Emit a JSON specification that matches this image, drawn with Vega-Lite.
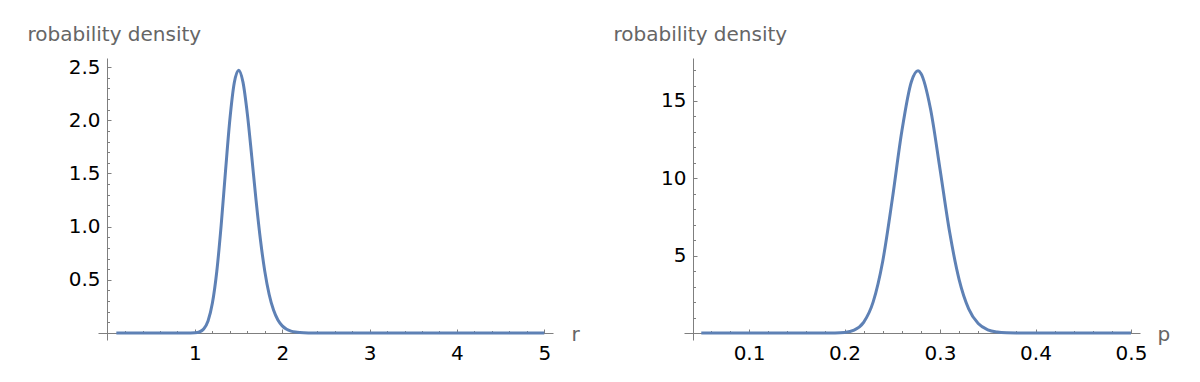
{
  "$schema": "https://vega.github.io/schema/vega-lite/v6.json",
  "padding": {"left": 27, "top": 24, "right": 5, "bottom": 5},
  "bounds": "flush",
  "spacing": 131,
  "config": {
    "view": {"stroke": null},
    "axis": {
      "grid": false,
      "domainColor": "#7f7f7f",
      "tickColor": "#7f7f7f",
      "domainWidth": 1,
      "tickWidth": 1,
      "labelFont": "DejaVu Sans",
      "labelFontSize": 20,
      "labelColor": "#000000",
      "titleFont": "DejaVu Sans",
      "titleFontSize": 20,
      "titleFontWeight": "normal",
      "titleColor": "#666666",
      "labelOverlap": false,
      "labelFlush": false
    }
  },
  "datasets": {
    "rdens": [
      {"r": 0.1, "d": 0}, {"r": 0.5, "d": 0}, {"r": 0.9, "d": 0}, {"r": 0.95, "d": 0.0003},
      {"r": 1.0, "d": 0.0019}, {"r": 1.05, "d": 0.0095}, {"r": 1.1, "d": 0.037}, {"r": 1.15, "d": 0.113},
      {"r": 1.2, "d": 0.281}, {"r": 1.25, "d": 0.578}, {"r": 1.3, "d": 1.01}, {"r": 1.35, "d": 1.521},
      {"r": 1.4, "d": 2.007}, {"r": 1.45, "d": 2.35}, {"r": 1.5, "d": 2.471}, {"r": 1.55, "d": 2.358},
      {"r": 1.6, "d": 2.06}, {"r": 1.65, "d": 1.663}, {"r": 1.7, "d": 1.247}, {"r": 1.75, "d": 0.876},
      {"r": 1.8, "d": 0.579}, {"r": 1.85, "d": 0.362}, {"r": 1.9, "d": 0.215}, {"r": 1.95, "d": 0.122},
      {"r": 2.0, "d": 0.067}, {"r": 2.05, "d": 0.035}, {"r": 2.1, "d": 0.018}, {"r": 2.15, "d": 0.0086},
      {"r": 2.2, "d": 0.0041}, {"r": 2.3, "d": 0.0008}, {"r": 2.5, "d": 0}, {"r": 3.0, "d": 0},
      {"r": 3.5, "d": 0}, {"r": 4.0, "d": 0}, {"r": 4.5, "d": 0}, {"r": 5.0, "d": 0}
    ],
    "pdens": [
      {"p": 0.05, "d": 0}, {"p": 0.1, "d": 0}, {"p": 0.15, "d": 0}, {"p": 0.18, "d": 0.0008},
      {"p": 0.19, "d": 0.0057}, {"p": 0.2, "d": 0.038}, {"p": 0.21, "d": 0.184}, {"p": 0.22, "d": 0.688},
      {"p": 0.23, "d": 2.01}, {"p": 0.24, "d": 4.643}, {"p": 0.25, "d": 8.64}, {"p": 0.26, "d": 13.04},
      {"p": 0.27, "d": 16.245}, {"p": 0.277, "d": 16.95}, {"p": 0.28, "d": 16.78}, {"p": 0.29, "d": 14.5},
      {"p": 0.3, "d": 10.59}, {"p": 0.31, "d": 6.54}, {"p": 0.32, "d": 3.456}, {"p": 0.33, "d": 1.563},
      {"p": 0.34, "d": 0.608}, {"p": 0.35, "d": 0.205}, {"p": 0.36, "d": 0.06}, {"p": 0.37, "d": 0.015},
      {"p": 0.38, "d": 0.0034}, {"p": 0.4, "d": 0}, {"p": 0.45, "d": 0}, {"p": 0.5, "d": 0}
    ]
  },
  "hconcat": [
    {
      "width": 455,
      "height": 282,
      "data": {"name": "rdens"},
      "layer": [
        {
          "mark": {"type": "line", "color": "#5E81B5", "strokeWidth": 3, "interpolate": "monotone"},
          "encoding": {
            "x": {
              "field": "r", "type": "quantitative",
              "scale": {"domain": [-0.11, 5.1], "nice": false, "zero": false},
              "axis": {
                "orient": "bottom", "offset": -7, "values": [1, 2, 3, 4, 5], "format": "d",
                "tickSize": -4, "labelPadding": 14,
                "title": "r", "titleX": 473, "titleY": 7, "titleAlign": "left",
                "titleBaseline": "alphabetic", "titleAngle": 0
              }
            },
            "y": {
              "field": "d", "type": "quantitative",
              "scale": {"domain": [-0.066, 2.585], "nice": false, "zero": false},
              "axis": {
                "orient": "left", "offset": -9, "values": [0.5, 1, 1.5, 2, 2.5], "format": ".1f",
                "tickSize": -4, "labelPadding": 11,
                "title": "robability density", "titleX": -80, "titleY": -17.5, "titleAlign": "left",
                "titleBaseline": "alphabetic", "titleAngle": 0
              }
            }
          }
        },
        {
          "mark": {"type": "line", "opacity": 0},
          "encoding": {
            "x": {
              "field": "r", "type": "quantitative",
              "axis": {
                "orient": "bottom", "offset": -7,
                "values": [0.2, 0.4, 0.6, 0.8, 1.2, 1.4, 1.6, 1.8, 2.2, 2.4, 2.6, 2.8, 3.2, 3.4, 3.6, 3.8, 4.2, 4.4, 4.6, 4.8],
                "tickSize": -2.5, "labels": false, "domain": false, "title": null
              }
            },
            "y": {
              "field": "d", "type": "quantitative",
              "axis": {
                "orient": "left", "offset": -9,
                "values": [0.1, 0.2, 0.3, 0.4, 0.6, 0.7, 0.8, 0.9, 1.1, 1.2, 1.3, 1.4, 1.6, 1.7, 1.8, 1.9, 2.1, 2.2, 2.3, 2.4],
                "tickSize": -2.5, "labels": false, "domain": false, "title": null
              }
            }
          }
        }
      ],
      "resolve": {"axis": {"x": "independent", "y": "independent"}}
    },
    {
      "width": 456,
      "height": 282,
      "data": {"name": "pdens"},
      "layer": [
        {
          "mark": {"type": "line", "color": "#5E81B5", "strokeWidth": 3, "interpolate": "monotone"},
          "encoding": {
            "x": {
              "field": "p", "type": "quantitative",
              "scale": {"domain": [0.0319, 0.5094], "nice": false, "zero": false},
              "axis": {
                "orient": "bottom", "offset": -7, "values": [0.1, 0.2, 0.3, 0.4, 0.5], "format": ".1f",
                "tickSize": -4, "labelPadding": 14,
                "title": "p", "titleX": 473, "titleY": 7, "titleAlign": "left",
                "titleBaseline": "alphabetic", "titleAngle": 0
              }
            },
            "y": {
              "field": "d", "type": "quantitative",
              "scale": {"domain": [-0.4525, 17.78], "nice": false, "zero": false},
              "axis": {
                "orient": "left", "offset": -9, "values": [5, 10, 15], "format": "d",
                "tickSize": -4, "labelPadding": 11,
                "title": "robability density", "titleX": -80, "titleY": -17.5, "titleAlign": "left",
                "titleBaseline": "alphabetic", "titleAngle": 0
              }
            }
          }
        },
        {
          "mark": {"type": "line", "opacity": 0},
          "encoding": {
            "x": {
              "field": "p", "type": "quantitative",
              "axis": {
                "orient": "bottom", "offset": -7,
                "values": [0.06, 0.08, 0.12, 0.14, 0.16, 0.18, 0.22, 0.24, 0.26, 0.28, 0.32, 0.34, 0.36, 0.38, 0.42, 0.44, 0.46, 0.48],
                "tickSize": -2.5, "labels": false, "domain": false, "title": null
              }
            },
            "y": {
              "field": "d", "type": "quantitative",
              "axis": {
                "orient": "left", "offset": -9,
                "values": [1, 2, 3, 4, 6, 7, 8, 9, 11, 12, 13, 14, 16, 17],
                "tickSize": -2.5, "labels": false, "domain": false, "title": null
              }
            }
          }
        }
      ],
      "resolve": {"axis": {"x": "independent", "y": "independent"}}
    }
  ]
}
